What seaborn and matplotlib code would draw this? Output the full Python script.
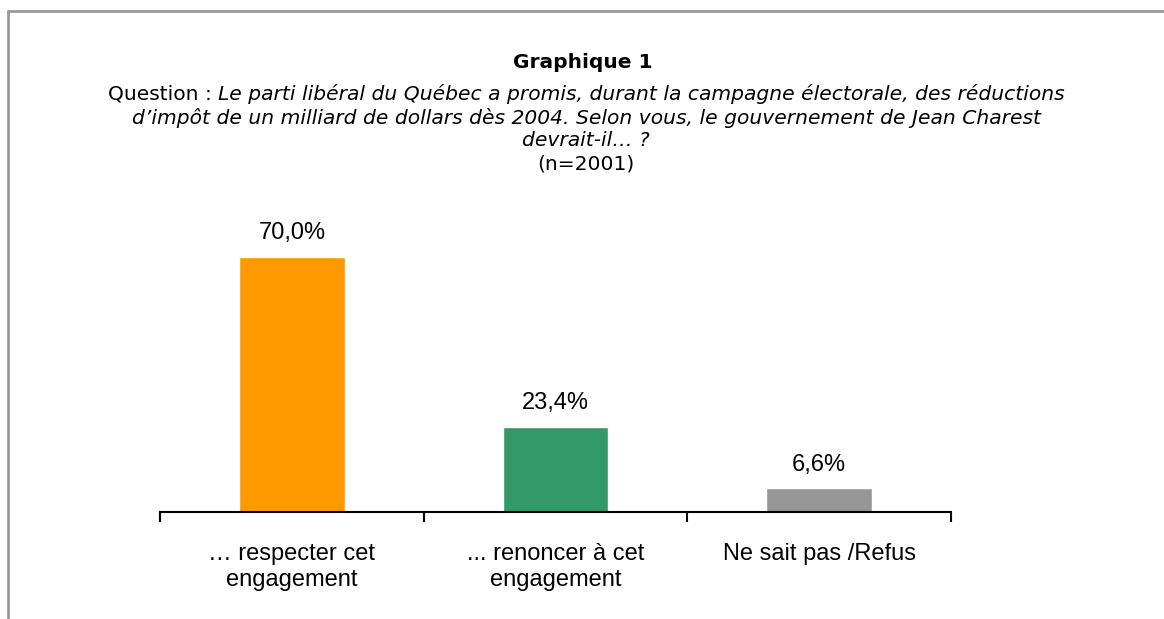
import pandas as pd
import seaborn as sns
import matplotlib.pyplot as plt
from matplotlib.lines import Line2D

# data
categories = ["… respecter cet\nengagement", "... renoncer à cet\nengagement", "Ne sait pas /Refus"]
values = [70.0, 23.4, 6.6]
colors = ["#FF9900", "#339966", "#969696"]
labels = ["70,0%", "23,4%", "6,6%"]

title = "Graphique 1"
q_lead = "Question : "
q_lines = ["Le parti libéral du Québec a promis, durant la campagne électorale, des réductions",
           "d’impôt de un milliard de dollars dès 2004. Selon vous, le gouvernement de Jean Charest",
           "devrait-il… ?"]
n_text = "(n=2001)"

df = pd.DataFrame({"cat": categories, "val": values})

sns.set_style("white")
plt.rcParams['font.family'] = ['Liberation Sans', 'DejaVu Sans']
plt.rcParams['text.color'] = 'black'
plt.rcParams['xtick.color'] = 'black'

W, H = 1164, 619
fig = plt.figure(figsize=(W / 100, H / 100), dpi=100)
ax = fig.add_axes([160 / W, (H - 512) / H, 791 / W, 310 / H])

sns.barplot(data=df, x="cat", y="val", hue="cat", palette=dict(zip(categories, colors)),
            width=0.4, legend=False, ax=ax, saturation=1)

ax.set_ylim(0, 85)
ax.set_xlim(-0.5, len(categories) - 0.5)
for s in ["top", "right", "left"]:
    ax.spines[s].set_visible(False)
ax.spines["bottom"].set_color("black")
ax.spines["bottom"].set_linewidth(1.5)
ax.set_yticks([])
ax.set_xlabel("")
ax.set_ylabel("")

# ticks at category boundaries, labels at centres
ax.set_xticks(range(len(categories)))
ax.set_xticklabels(categories, fontsize=17, linespacing=1.2, color="black")
ax.tick_params(axis="x", which="major", length=0, pad=22.5)
ax.set_xticks([i - 0.5 for i in range(len(categories) + 1)], minor=True)
ax.tick_params(axis="x", which="minor", bottom=True, length=7, width=1.5,
               color="black", direction="out")

for i, (v, lab) in enumerate(zip(values, labels)):
    ax.annotate(lab, (i, v), xytext=(0, 12.5), textcoords="offset points",
                ha="center", va="baseline", fontsize=17, color="black")

# header texts
tfont = ['DejaVu Sans']
fig.text(583 / W, 1 - 62 / H, title, ha="center", va="center", fontsize=14.5,
         fontweight="bold", family=tfont)

fig.canvas.draw()
r = fig.canvas.get_renderer()
fs = 14.6
t1 = fig.text(0, 1 - 94 / H, q_lead, ha="left", va="center", fontsize=fs, family=tfont)
t2 = fig.text(0, 1 - 94 / H, q_lines[0], ha="left", va="center", fontsize=fs,
              family=tfont, style="italic")
w1 = t1.get_window_extent(r).width
w2 = t2.get_window_extent(r).width
x0 = 586 - (w1 + w2) / 2
t1.set_x(x0 / W)
t2.set_x((x0 + w1) / W)
fig.text(586 / W, 1 - 118 / H, q_lines[1], ha="center", va="center", fontsize=fs,
         family=tfont, style="italic")
fig.text(586 / W, 1 - 141 / H, q_lines[2], ha="center", va="center", fontsize=fs,
         family=tfont, style="italic")
fig.text(586 / W, 1 - 164 / H, n_text, ha="center", va="center", fontsize=fs, family=tfont)

# grey frame (top and left only)
fig.add_artist(Line2D([8 / W, 1], [1 - 11 / H, 1 - 11 / H], transform=fig.transFigure,
                      color="#999999", lw=2))
fig.add_artist(Line2D([8 / W, 8 / W], [0, 1 - 11 / H], transform=fig.transFigure,
                      color="#999999", lw=2))

fig.savefig("out.png", dpi=100, facecolor="white")
